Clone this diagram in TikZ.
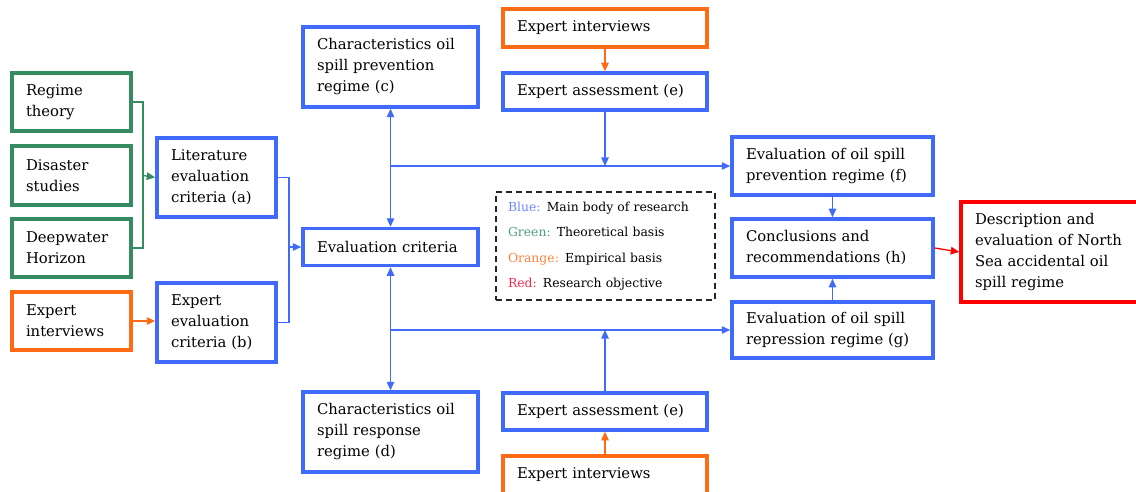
\documentclass[tikz,border=0pt]{standalone}
\usepackage{fontspec}
\setmainfont{DejaVu Serif}
\usetikzlibrary{arrows.meta}

\definecolor{cblue}{RGB}{64,106,250}
\definecolor{cgreen}{RGB}{52,140,96}
\definecolor{corange}{RGB}{255,106,20}
\definecolor{cred}{RGB}{255,0,0}
\definecolor{lblue}{RGB}{110,135,255}
\definecolor{lgreen}{RGB}{80,160,125}
\definecolor{lorange}{RGB}{255,130,60}
\definecolor{lred}{RGB}{255,40,70}

\tikzset{
  box/.style={draw, line width=3.5pt, inner xsep=14pt, inner ysep=0pt,
    align=left, anchor=center, text=black, font=\fontsize{14.8}{21}\selectfont},
  sz/.style n args={3}{minimum width=#1pt, minimum height=#2pt, text width=#3pt},
  bluebox/.style={box, draw=cblue},
  greenbox/.style={box, draw=cgreen},
  orangebox/.style={box, draw=corange},
  redbox/.style={box, draw=cred},
  legendbox/.style={draw=black!85, dashed, dash pattern=on 6pt off 4pt,
    line width=1.2pt, inner xsep=12pt, inner ysep=0pt, align=left,
    font=\fontsize{12.4}{25.5}\selectfont},
  tip/.style={-{Triangle[length=8.5pt,width=7.5pt]}},
  tips/.style={{Triangle[length=8.5pt,width=7.5pt]}-{Triangle[length=8.5pt,width=7.5pt]}},
  conn/.style={line width=1.3pt, draw=cblue},
  gconn/.style={line width=1.3pt, draw=cgreen},
  oconn/.style={line width=1.3pt, draw=corange},
  rconn/.style={line width=1.3pt, draw=cred},
}

\begin{document}
\begin{tikzpicture}[x=1pt,y=-1pt]
\useasboundingbox (0,0) rectangle (1136,492);

% theoretical and empirical inputs
\node[greenbox, sz={119}{58}{91}] (reg) at (71.5,102) {Regime\\theory};
\node[greenbox, sz={119}{59}{91}] (dis) at (71.5,175.5) {Disaster\\studies};
\node[greenbox, sz={119}{58}{91}] (dwh) at (71.5,248) {Deepwater\\Horizon};
\node[orangebox, sz={119}{58}{91}] (exl) at (71.5,321) {Expert\\interviews};

% evaluation criteria
\node[bluebox, sz={119}{79}{91}] (lit) at (216.5,177.5) {Literature\\evaluation\\criteria (a)};
\node[bluebox, sz={119}{79}{91}] (exc) at (216.5,322.5) {Expert\\evaluation\\criteria (b)};
\node[bluebox, sz={175}{37}{147}] (evc) at (390.5,247) {Evaluation criteria};
\node[bluebox, sz={175}{80}{147}] (chc) at (390.5,67) {Characteristics oil\\spill prevention\\regime (c)};
\node[bluebox, sz={175}{80}{147}] (chd) at (390.5,432) {Characteristics oil\\spill response\\regime (d)};

% expert assessments
\node[orangebox, sz={204}{38}{176}] (eit) at (605,28) {Expert interviews};
\node[bluebox, sz={204}{37}{176}] (eat) at (605,91.5) {Expert assessment (e)};
\node[bluebox, sz={204}{37}{176}] (eab) at (605,411.5) {Expert assessment (e)};
\node[orangebox, sz={204}{38}{176}] (eib) at (605,475) {Expert interviews};

% evaluations and outcome
\node[bluebox, sz={201}{58}{173}] (evf) at (832.5,166) {Evaluation of oil spill\\prevention regime (f)};
\node[bluebox, sz={201}{58}{173}] (con) at (832.5,248) {Conclusions and\\recommendations (h)};
\node[bluebox, sz={201}{56}{173}] (evg) at (832.5,330) {Evaluation of oil spill\\repression regime (g)};
\node[redbox, sz={188}{100}{160}] (res) at (1055,252) {Description and\\evaluation of North\\Sea accidental oil\\spill regime};

% legend
\node[legendbox, minimum width=219pt, minimum height=108pt, text width=195pt] (leg) at (605.5,246)
  {\textcolor{lblue}{Blue:} Main body of research\\
   \textcolor{lgreen}{Green:} Theoretical basis\\
   \textcolor{lorange}{Orange:} Empirical basis\\
   \textcolor{lred}{Red:} Research objective};

% green inputs into literature criteria
\coordinate (gj) at (143,177.5);
\draw[gconn] (reg.east) -| (gj) |- (dwh.east);
\draw[gconn, tip] (dis.east -| gj) -- (lit.west);
\draw[oconn, tip] (exl.east) -- (exl.east -| exc.west);

% criteria combined
\coordinate (bj) at (289,247);
\draw[conn] (lit.east) -| (bj) |- (exc.east);
\draw[conn, tip] (bj) -- (evc.west);

% upper branch
\draw[conn, tips] (chc.south) -- (evc.north);
\coordinate (tj) at (chc.south |- evf.west);
\draw[conn, tip] (tj) -- (evf.west);
\draw[conn, tip] (eat.south) -- (eat.south |- tj);
\draw[oconn, tip] (eit.south) -- (eat.north);

% lower branch
\draw[conn, tips] (evc.south) -- (chd.north);
\coordinate (lj) at (chd.north |- evg.west);
\draw[conn, tip] (lj) -- (evg.west);
\draw[conn, tip] (eab.north) -- (eab.north |- lj);
\draw[oconn, tip] (eib.north) -- (eab.south);

% conclusions
\draw[conn, tip] (evf.south) -- (con.north);
\draw[conn, tip] (evg.north) -- (con.south);
\draw[rconn, tip] (con.east) -- (res.west);
\end{tikzpicture}
\end{document}
